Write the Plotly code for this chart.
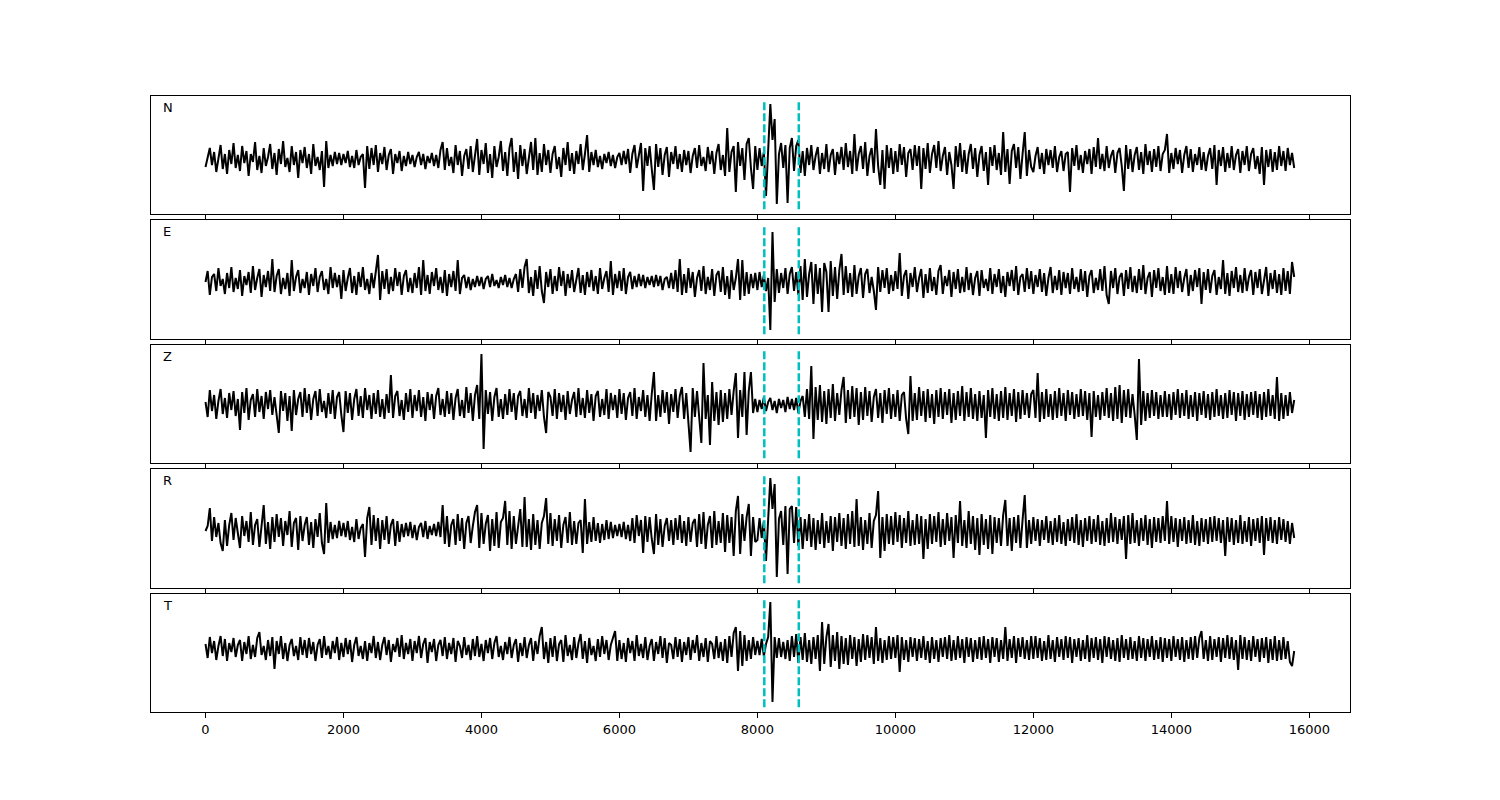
import plotly.graph_objects as go

# sample spacing of the traces (x axis units)
STEP = 31.25
PICK_TIMES = [8100, 8600]
X_TICKS = [0, 2000, 4000, 6000, 8000, 10000, 12000, 14000, 16000]
LABELS = ["N", "E", "Z", "R", "T"]

n_values = [
    -7, 4, 12, -5, 8, -12, 3, 15, -9, 6, -14, 10, -4, 17, -8, 5,
    -11, 14, -3, 9, -16, 6, -2, 18, -10, 4, -13, 12, -6, 3, 16, -9,
    7, -15, 11, -4, 19, -7, 2, -12, 14, -5, 8, -18, 10, -3, 13, -8,
    6, -14, 16, -6, 3, -10, 9, -27, 19, -8, 5, -6, 8, -4, 7, -5,
    6, -3, 9, -7, 4, -8, 10, -5, 3, 6, -28, 14, -9, 12, -5, 15,
    -12, 7, -4, 13, -10, 5, 11, -14, 6, -3, 9, -11, 4, -6, 8, -4,
    5, -7, 3, 8, -5, 6, -9, 4, -3, 7, -6, 5, -8, 10, 18, -10,
    12, -6, 3, -13, 15, -5, 9, -16, 4, 11, -9, 14, -12, 6, 21, -15,
    10, -4, 17, -13, 6, -18, 14, -7, 3, 19, -11, 8, -16, 12, 22, -12,
    8, -19, 15, -6, 11, -14, 4, 18, -10, 22, -15, 7, -12, 16, -5, 10,
    -13, 6, 14, -9, 3, -17, 12, -5, 18, -11, 7, -14, 9, -4, 16, -10,
    6, 25, -12, 8, -5, 10, -7, 4, -9, 6, -3, 8, -6, 5, -8, 3,
    7, -5, 9, -4, 11, -13, 6, 15, -8, 4, 17, -31, 12, -6, 14, -9,
    -30, 16, -7, 12, -15, 5, 13, -17, 8, -4, 14, -9, 6, -12, 10, -5,
    9, -13, 4, 12, -8, 15, -6, 3, -11, 13, -4, 9, -14, 7, 16, -10,
    5, -16, 32, -12, 8, 14, -32, 18, -6, 12, -20, 16, 22, -8, -29, 14,
    -10, 12, -6, 8, -36, 10, 56, 20, 41, -44, 6, 17, -8, 15, -43, 12,
    22, -11, 14, 20, -13, 9, -16, 12, -5, 15, -10, 4, 13, -14, 7, -9,
    16, -12, 5, 11, -15, 8, -4, 13, -10, 17, -7, 9, -14, 26, -11, 6,
    14, -9, 18, -16, 4, 12, -13, 31, -6, -25, 10, -29, 15, -8, 12, -14,
    9, -12, 16, -5, 13, -17, 7, 11, -10, 15, -6, 14, -29, 12, -9, 17,
    -13, 6, 15, -8, 19, -11, 4, 13, -15, 8, -5, -29, 14, -7, 17, -12,
    10, -14, 6, 16, -9, 12, -17, 5, 14, -11, 8, -25, 13, -6, 15, -10,
    7, -15, 28, -12, 11, -24, 9, 16, -8, 13, -19, 6, 28, -16, 10, -7,
    -12, 4, 13, -9, 7, -14, 11, -5, 10, -8, 14, -12, 3, 9, -11, 6,
    8, -32, 12, -6, 15, -10, 5, -13, 9, -4, 11, -14, 13, -7, 22, -9,
    6, -11, 14, -8, 4, 10, -13, 7, 12, -6, -31, 15, -9, 11, -12, 5,
    13, -10, 8, -14, 16, -5, 9, -12, 11, -7, 14, -11, 6, 10, 26, -13,
    7, -9, 12, -4, 10, -13, 5, 14, -8, 11, -12, 6, -5, 13, -10, 8,
    -11, 4, 12, -9, 15, -25, 10, -6, 13, -12, 7, -8, 14, -10, 5, 11,
    -13, 9, -5, 14, -11, 6, 12, -9, 4, -14, 13, -25, 10, -7, 11, -12,
    8, -10, 14, -6, 9, -11, 12, -5, 7, -8,
]

e_values = [
    0, 11, -13, 5, 8, -9, 14, -4, 3, -12, 9, -6, 15, -10, 4, -7,
    12, -14, 6, -3, 10, -11, 16, -8, 4, 13, -15, 7, -5, 11, -9, 23,
    -10, 6, 13, -12, 4, -7, 9, -14, 22, -9, 5, 12, -11, 3, -6, 10,
    -13, 8, -4, 14, -10, 5, 11, -8, 3, -12, 15, -6, 9, -5, 7, -17,
    12, -9, 4, 14, -11, 6, -13, 10, -5, 15, -8, 3, -12, 9, -6, 13,
    27, -18, 11, -7, 13, -12, 5, -9, 14, -4, 10, -13, 6, 12, -10, 4,
    -11, 9, -6, 15, -13, 22, -9, 7, -12, 10, -4, 14, -8, 5, -11, 12,
    -14, 8, -5, 11, -9, 22, -12, 4, 7, -6, 5, -8, 3, -5, 6, -4,
    5, -7, 3, 6, -5, 8, -4, 2, -6, 5, -3, 7, -5, 4, -6, 3,
    8, -10, 13, -6, 15, 23, -11, 5, -14, 12, -7, 16, -9, -21, 10, -5,
    13, -12, 6, -9, 15, -4, 11, -14, 8, -6, 12, -10, 3, 14, -11, 7,
    -13, 10, -5, 12, -9, 6, -12, 14, -7, 4, 11, -10, 21, -13, 8, -6,
    11, -9, 14, -12, 5, 10, -7, 6, -5, 8, -4, 7, -6, 5, -3, 6,
    -5, 7, -4, 6, -8, 3, 5, -6, 9, -7, 12, -10, 23, -13, 8, -11,
    14, -6, 10, -15, 4, 12, -9, 16, -12, 5, -8, 13, -14, 7, 11, -10,
    15, -13, 6, -17, 12, -8, 4, 23, -18, 22, -14, 10, -12, 8, -6, 9,
    -8, 10, -5, 7, -9, 4, -48, 50, -20, 13, -11, 9, -6, 14, -12, 8,
    15, -9, 10, -13, 16, -18, 23, -15, 8, 20, -22, 18, -12, 14, -30, 19,
    10, -30, 21, -14, 15, -17, 12, 28, -13, 16, -11, 9, -15, 17, -12, 6,
    14, -16, 8, 13, -11, 5, -9, -28, 15, -10, 12, -6, 14, -12, 7, -9,
    11, -7, 29, -14, 6, 12, -17, 9, -5, 15, -10, 4, 13, -16, 8, -11,
    14, -9, 5, -13, 11, 17, -12, 6, -4, 12, -15, 10, -7, 13, -11, 5,
    -10, 15, -8, 9, -13, 4, 11, -14, 12, -6, 3, -9, 14, -12, 8, -5,
    13, -11, 6, -15, 10, -4, 12, -9, 16, -13, 5, 8, -10, 14, -7, 11,
    -12, 7, -5, 13, -10, 9, -14, 4, 15, -11, 6, -8, 12, -13, 10, -6,
    9, -12, 14, -7, 5, -10, 13, -9, 11, -15, 6, 12, -11, 4, -8, 13,
    -9, 16, -13, -22, 11, -6, 14, -12, 5, 9, -14, 12, -7, 15, -10, 6,
    -11, 13, -8, 17, -12, 4, 10, -15, 12, -6, 14, -9, 5, -13, 16, -11,
    8, -12, 15, -6, 11, -10, 4, 13, -14, 7, -9, 12, -5, 14, -22, 10,
    -8, 13, -11, 6, 12, -13, 5, -7, 22, -12, 9, -14, 11, -6, 15, -10,
    7, -11, 14, -9, 5, 12, -13, 10, -6, 13, -12, 4, 15, -14, 9, -7,
    12, -11, 8, -13, 14, -9, 11, -12, 20, 5,
]

z_values = [
    3, -12, 15, -6, 10, -14, 4, 16, -9, 7, -13, 12, -5, 14, -11, 6,
    -25, 13, -8, 17, -15, 5, 11, -12, 16, -7, 9, -14, 13, -4, 15, -10,
    8, -13, -28, 14, -6, 12, -16, 9, -26, 15, -10, 6, 13, -12, 17, -8,
    11, -15, 6, 14, -11, 16, -7, 4, -13, 12, -9, 15, -14, 8, 13, -10,
    -27, 14, -8, 12, -15, 6, 16, -11, 9, -13, 17, -5, 10, -14, 12, -9,
    15, -12, 6, -14, 11, -8, 30, -13, 9, 14, -11, 5, -15, 12, -7, 16,
    -13, 10, -6, 15, -12, 8, -16, 13, -5, 11, -14, 9, 17, -10, 6, -12,
    14, -9, 12, -15, 7, 16, -11, 5, -13, 18, -8, 12, -16, 10, 20, -14,
    51, -44, 15, -9, 13, -16, 8, 17, -12, 6, -14, 11, -10, 16, -7, 12,
    -15, 9, 14, -11, 6, -13, 17, -8, 12, -14, 10, -6, 15, -12, -28, 13,
    8, -11, 16, -14, 12, -7, 10, -15, 14, -9, 5, 13, -12, 17, -10, 7,
    -13, 15, -8, 11, -16, 9, 14, -12, 6, -10, 16, -14, 12, -5, 10, -13,
    16, -9, 12, -15, 7, 13, -11, 17, -14, 8, -6, 15, -12, 10, -16, 11,
    33, -16, 10, -12, 15, -8, 13, -19, 11, -7, 16, -13, 9, 18, -14, 12,
    -15, -47, 17, -12, 14, -9, -38, 42, -14, 10, -40, 23, -16, 13, -20, 15,
    -17, 12, -14, 16, -10, 14, 32, -33, 15, -12, 33, -30, 14, 33, -8, 6,
    -7, 5, -4, 8, -6, 3, 7, -5, 4, -8, 6, -3, 5, -7, 8, -4,
    6, -5, 7, -8, 4, 9, -12, 16, -14, 39, -34, 18, -15, 20, -17, 14,
    -19, 16, -13, 21, -16, 12, -10, 15, 28, -18, 15, -14, 19, -12, 17, -20,
    13, -15, 18, -11, 14, -17, 8, 16, -13, 12, -18, 15, -9, 17, -14, 11,
    -12, 15, -16, 10, 13, -14, -29, 29, -16, 12, -15, 18, -11, 14, -17, 16,
    -13, 11, -19, 15, -12, 17, -14, 13, -10, 16, -18, 12, -15, 14, -11, 19,
    -16, 13, -12, 17, -14, 11, -16, 14, -13, 10, -33, 15, -12, 17, -14, 11,
    -16, 14, -13, 18, -15, 12, -11, 16, -17, 13, -14, 15, -10, 12, -13, 11,
    15, -13, 32, -17, 13, -14, 16, -12, 11, -15, 14, -13, 17, -11, 12, -16,
    15, -10, 13, -14, 11, -12, 16, -11, 14, -15, 12, -32, 14, -12, 10, -15,
    13, -11, 17, -13, 12, -16, 18, -14, 20, -18, 15, -12, 16, -13, 11, -10,
    -35, 46, -20, 14, -16, 12, -13, 15, -11, 13, -14, 10, -12, 14, -12, 11,
    -15, 13, -10, 16, -13, 12, -11, 15, -14, 10, -12, 13, -16, 12, -10, 14,
    -13, 11, -15, 13, -12, 16, -11, 10, -14, 12, -13, 15, -10, 13, -16, 12,
    -11, 14, -15, 11, -12, 13, -10, 14, -13, 11, -15, 13, -12, 16, -11, 10,
    -14, 28, -16, 12, -14, 10, -11, 13, -8, 5,
]

r_values = [
    0, 5, 23, -10, 14, -6, 8, -12, -20, 11, -15, 6, 18, -9, 13, -4,
    -17, 15, -5, 10, -11, 19, -14, 6, 12, -16, 4, 26, -13, 9, -18, 14,
    -11, 17, -6, 13, -15, 10, -4, 20, -16, 8, 13, -19, 15, -10, 6, 14,
    -14, 9, -17, 12, -6, 18, -12, -23, 28, -12, 9, -8, 6, -7, 10, -5,
    8, -6, 10, -9, 4, -11, 12, -8, 3, 7, -26, 13, 24, -14, 16, -10,
    13, -18, 11, -9, 15, -13, 6, 12, -15, 10, -11, 7, -6, 8, -5, 9,
    -7, 6, -9, 4, 8, -6, 10, -8, 5, -4, 7, -5, 9, -6, 26, -13,
    15, -16, 6, 12, -14, 17, -10, 13, -18, 8, 15, -12, 5, 19, 26, -17,
    18, -13, 7, 16, -20, 12, -15, 19, -17, 9, 13, 30, -14, 20, -18, 15,
    -13, 6, 22, -16, 34, -16, 12, -19, 17, -14, 11, -18, 8, 15, 33, -13,
    18, -15, 12, -10, 16, -17, 6, 14, -12, 19, -14, 10, -13, 8, 11, -22,
    32, -13, 9, -11, 14, -10, 8, -12, 7, -9, 11, -8, 9, -7, 6, -5,
    7, -6, 9, -8, 6, -10, 13, -12, 16, -5, 11, -22, 15, -11, 14, -8,
    -23, 17, -14, 12, -16, 5, 13, -10, 11, -14, 13, -9, 16, -12, 10, -15,
    14, -11, 8, 12, -16, 17, -13, 19, -18, 6, 15, -17, 20, -14, 10, -12,
    18, -21, 16, -12, 14, -25, 20, 35, -23, 17, -10, 14, 27, -25, 14, -11,
    -9, 13, -7, 10, -30, 12, 53, 22, 47, -46, 12, 20, -14, 25, -43, 22,
    25, -12, 24, -15, 14, -18, 12, -10, 17, -16, 13, -19, 11, -13, 18, -17,
    10, -12, 15, -20, 14, -11, 18, -15, 13, -18, 17, -13, 20, -16, 32, -15,
    14, -19, 11, -13, 18, -17, 10, 16, 40, -27, 14, -20, 17, -13, 15, -14,
    19, -11, 16, -17, 13, -12, 20, -15, 11, -14, 17, -13, 15, -28, 12, -18,
    17, -13, 15, -11, 19, -16, 12, -14, 18, -10, 14, -27, 16, -12, 30, -15,
    11, -17, 20, -13, 15, -19, 13, -24, 17, -14, 12, -18, 16, -23, 14, -12,
    13, -15, 16, 31, -15, 13, -20, 14, -12, 16, -17, 11, 36, -17, 11, -13,
    14, -10, 12, -15, 11, -9, 15, -12, 10, -14, 13, -11, 16, -13, 9, -15,
    12, -10, 14, -12, 17, -14, 11, -16, 13, -10, 15, -13, 12, -11, 16, -14,
    10, -15, 13, -12, 18, -11, 14, -13, 12, -9, 15, -28, 16, -13, 18, -12,
    11, -15, 13, -10, 16, -14, 12, -17, 14, -11, 13, -12, 15, -10, 30, -13,
    15, -11, 13, -16, 12, -10, 14, -13, 11, -12, 16, -14, 10, -15, 13, -11,
    12, -13, 14, -11, 15, -10, 13, -12, 11, -25, 14, -11, 13, -14, 11, -12,
    16, -13, 10, -11, 14, -15, 12, -10, 13, -12, 15, -24, 13, -10, 14, -12,
    11, -13, 14, -9, 12, -11, 10, -13, 8, -7,
]

t_values = [
    5, -9, 12, -4, 8, -11, 3, 13, -7, 10, -12, 6, -3, 11, -8, 4,
    9, -12, 7, -5, 13, -10, 4, -8, 11, 17, -6, 3, -11, 9, -7, 12,
    -20, 8, -5, 13, -10, 6, -12, 4, 10, -7, 3, -11, 12, -6, 9, -9,
    11, -5, 7, -12, 4, 10, -9, 13, -6, 3, -10, 8, -4, 12, -11, 6,
    -8, 11, -5, 9, -13, 4, 12, -7, 3, -10, 8, -12, 6, -4, 13, -9,
    7, -11, 4, 12, -6, 9, -13, 5, -3, 11, -8, 14, -10, 6, -5, 10,
    -12, 8, -4, 13, -9, 5, 11, -14, 7, -3, 10, -12, 4, 9, -7, 12,
    -10, 6, -5, 11, -13, 8, 3, -9, 12, -6, 4, -11, 10, -7, 13, -8,
    5, -12, 9, -4, 11, -10, 6, 13, -8, 3, -11, 7, -5, 12, -9, 4,
    10, -13, 6, -7, 12, -9, 4, 11, -12, 8, -5, 13, 22, -10, 7, -14,
    11, -8, 13, -12, 5, 9, -13, 14, -7, 4, -11, 12, -9, 6, 15, -10,
    8, -14, 11, -6, 3, -12, 10, -8, 13, -5, 9, -11, 4, 12, 18, -12,
    9, -10, 6, -13, 11, -4, 8, -12, 14, -7, 5, -9, 12, -11, 3, 10,
    -12, 7, -5, 13, -9, 11, -14, 6, 4, -10, 12, -8, 10, -13, 7, -6,
    12, -11, 9, -4, 14, -12, 6, -8, 11, -13, 8, 5, -10, 13, -9, 7,
    -12, 10, -14, 13, -8, 16, 22, -22, 18, -17, 14, -12, 9, -10, 12, -6,
    8, -6, 10, -7, 5, 12, 47, -53, 12, -9, 11, -8, 7, -10, 9, -12,
    13, -8, 15, -14, 12, -11, 16, -13, 9, -15, 12, -10, 14, -22, 27, -15,
    12, 25, -18, 14, -12, 17, -20, 13, -15, 11, -16, 14, -10, 12, -17, 10,
    -13, 15, -11, 14, -9, 12, -15, 22, -12, 11, -14, 9, -11, 13, -10, 12,
    -9, 14, -23, 12, -11, 9, -13, 12, -8, 11, -12, 10, -9, 13, -11, 8,
    -14, 12, -10, 9, -13, 11, -8, 12, -10, 14, -12, 9, -11, 13, -9, 10,
    -14, 12, -8, 11, -13, 9, -10, 12, -11, 13, -9, 10, -14, 12, -8, 11,
    -13, 9, -10, 22, -12, 10, -9, 13, -14, 11, -8, 12, -10, 9, -11, 13,
    -10, 13, -9, 11, -12, 8, -11, 14, -10, 9, -13, 12, -8, 10, -11, 13,
    -9, 12, -14, 10, -8, 11, -12, 9, -10, 14, -13, 11, -9, 12, -11, 10,
    -14, 13, -8, 12, -10, 9, -12, 11, -13, 14, -9, 10, -11, 12, -10, 8,
    -12, 13, -9, 11, -12, 10, -8, 13, -11, 9, -10, 12, -13, 11, -9, 10,
    -12, 13, -8, 10, -11, 12, -13, 9, -10, 12, -11, 13, -9, 11, 18, -10,
    9, -12, 13, -11, 10, -8, 12, -13, 11, -9, 14, -10, 12, -11, 9, -21,
    14, -10, 12, -11, 9, -12, 13, -8, 10, -13, 11, -9, 12, -14, 10, -11,
    13, -12, 9, -11, 12, -10, 8, -13, -17, -2,
]

series = [n_values, e_values, z_values, r_values, t_values]

# layout (pixel geometry of the 1500x800 page)
W, H = 1500, 800
X_DOMAIN = [151 / W, 1350 / W]
PANEL_PX = [(96, 214), (220, 339), (345, 463), (469, 588), (594, 712)]
Y_RANGES = [[-54, 64], [-57, 62], [-58, 60], [-57, 62], [-63, 55]]
X_RANGE = [-790, 16590]

fig = go.Figure()
layout = dict(
    width=W, height=H, autosize=False,
    margin=dict(l=0, r=0, t=0, b=0),
    paper_bgcolor="white", plot_bgcolor="white",
    showlegend=False,
    font=dict(family="DejaVu Sans", size=13, color="black"),
    shapes=[], annotations=[],
)

for i, (label, vals) in enumerate(zip(LABELS, series)):
    k = "" if i == 0 else str(i + 1)
    xa, ya = "x" + k, "y" + k
    fig.add_trace(go.Scatter(
        x=[j * STEP for j in range(len(vals))], y=vals,
        mode="lines", line=dict(color="black", width=2),
        xaxis=xa, yaxis=ya, hoverinfo="skip",
    ))
    top, bot = PANEL_PX[i]
    layout["xaxis" + k] = dict(
        domain=X_DOMAIN, range=X_RANGE, anchor=ya,
        showline=True, mirror=True, linecolor="black", linewidth=1,
        ticks="outside", ticklen=5, tickwidth=1, tickcolor="black",
        tickvals=X_TICKS, ticktext=[str(t) for t in X_TICKS],
        showticklabels=(i == len(LABELS) - 1),
        tickfont=dict(family="DejaVu Sans", size=13, color="black"),
        showgrid=False, zeroline=False,
    )
    layout["yaxis" + k] = dict(
        domain=[1 - bot / H, 1 - top / H], range=Y_RANGES[i], anchor=xa,
        showline=True, mirror=True, linecolor="black", linewidth=1,
        ticks="", showticklabels=False, showgrid=False, zeroline=False,
    )
    for t in PICK_TIMES:
        layout["shapes"].append(dict(
            type="line", xref=xa, yref=ya + " domain",
            x0=t, x1=t, y0=0.04, y1=0.96,
            line=dict(color="#00BFBF", width=2.5, dash="8px,3px"),
            layer="above",
        ))
    layout["annotations"].append(dict(
        text=label, xref=xa + " domain", yref=ya + " domain",
        x=0.008, y=0.9, xanchor="left", yanchor="middle", showarrow=False,
        font=dict(family="DejaVu Sans", size=13, color="black"),
    ))

fig.update_layout(**layout)
fig.write_html(
    "out.html",
    config={"displayModeBar": False},
    post_script="document.body.style.margin='0px';",
)
